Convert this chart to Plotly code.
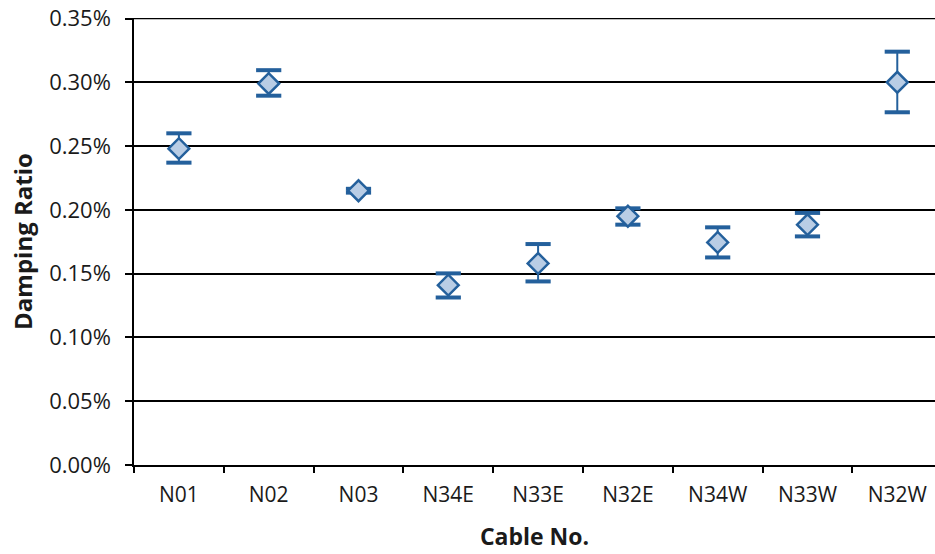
import plotly.graph_objects as go

cables = ["N01", "N02", "N03", "N34E", "N33E", "N32E", "N34W", "N33W", "N32W"]
damping = [0.248, 0.299, 0.215, 0.141, 0.158, 0.195, 0.1745, 0.1884, 0.300]
err_plus = [0.012, 0.0105, 0.0015, 0.0092, 0.0152, 0.0062, 0.0118, 0.0092, 0.0240]
err_minus = [0.011, 0.0095, 0.0015, 0.0097, 0.0141, 0.0066, 0.0118, 0.0092, 0.0235]
y_ticks = [0.00, 0.05, 0.10, 0.15, 0.20, 0.25, 0.30, 0.35]

BLUE = "#24609c"
FILL = "#b9cde5"
FONT = "Open Sans"

fig = go.Figure()

# error bars (stems)
fig.add_trace(go.Scatter(
    x=cables, y=damping, mode="markers",
    marker=dict(size=1, color="rgba(0,0,0,0)"),
    error_y=dict(type="data", symmetric=False, array=err_plus, arrayminus=err_minus,
                 color=BLUE, thickness=2, width=0),
    showlegend=False, hoverinfo="skip",
))

# thick caps
caps_x = cables + cables
caps_y = [v + e for v, e in zip(damping, err_plus)] + [v - e for v, e in zip(damping, err_minus)]
fig.add_trace(go.Scatter(
    x=caps_x, y=caps_y, mode="markers",
    marker=dict(symbol="line-ew", size=18, line=dict(color=BLUE, width=4)),
    showlegend=False, hoverinfo="skip",
))

# diamonds
fig.add_trace(go.Scatter(
    x=cables, y=damping, mode="markers",
    marker=dict(symbol="diamond", size=16, color=FILL, line=dict(color=BLUE, width=2.5)),
    showlegend=False,
))

# top gridline at the axis maximum
fig.add_shape(type="line", xref="paper", x0=0, x1=1, yref="y",
              y0=y_ticks[-1], y1=y_ticks[-1], line=dict(color="black", width=1.5), layer="below")

fig.update_layout(
    width=935, height=554,
    margin=dict(l=134, r=0, t=18, b=89),
    paper_bgcolor="white", plot_bgcolor="white",
    font=dict(family=FONT, size=21, color="#1a1a1a"),
    xaxis=dict(
        type="category", range=[-0.5, 8.42], automargin=False,
        showline=True, linecolor="black", linewidth=1.5,
        ticks="outside", tickson="boundaries", ticklen=6, tickcolor="black", tickwidth=1.5,
        showgrid=False, tickfont=dict(size=21), ticklabelstandoff=10,
        title=dict(text="<b>Cable No.</b>", font=dict(size=23), standoff=22),
    ),
    yaxis=dict(
        range=[0, 0.3504], tickvals=y_ticks, automargin=False,
        ticktext=[f"{v:.2f}%" for v in y_ticks],
        showline=True, linecolor="black", linewidth=1.5,
        ticks="outside", ticklen=7, tickcolor="black", tickwidth=1.5,
        showgrid=True, gridcolor="black", gridwidth=1.5, zeroline=False,
        tickfont=dict(size=22), ticklabelstandoff=10, ticklabeloverflow="allow",
        title=dict(text="<b>Damping Ratio</b>", font=dict(size=24), standoff=10),
    ),
)

fig.write_html("out.html", config={"displayModeBar": False},
               post_script="document.body.style.margin='0';")
